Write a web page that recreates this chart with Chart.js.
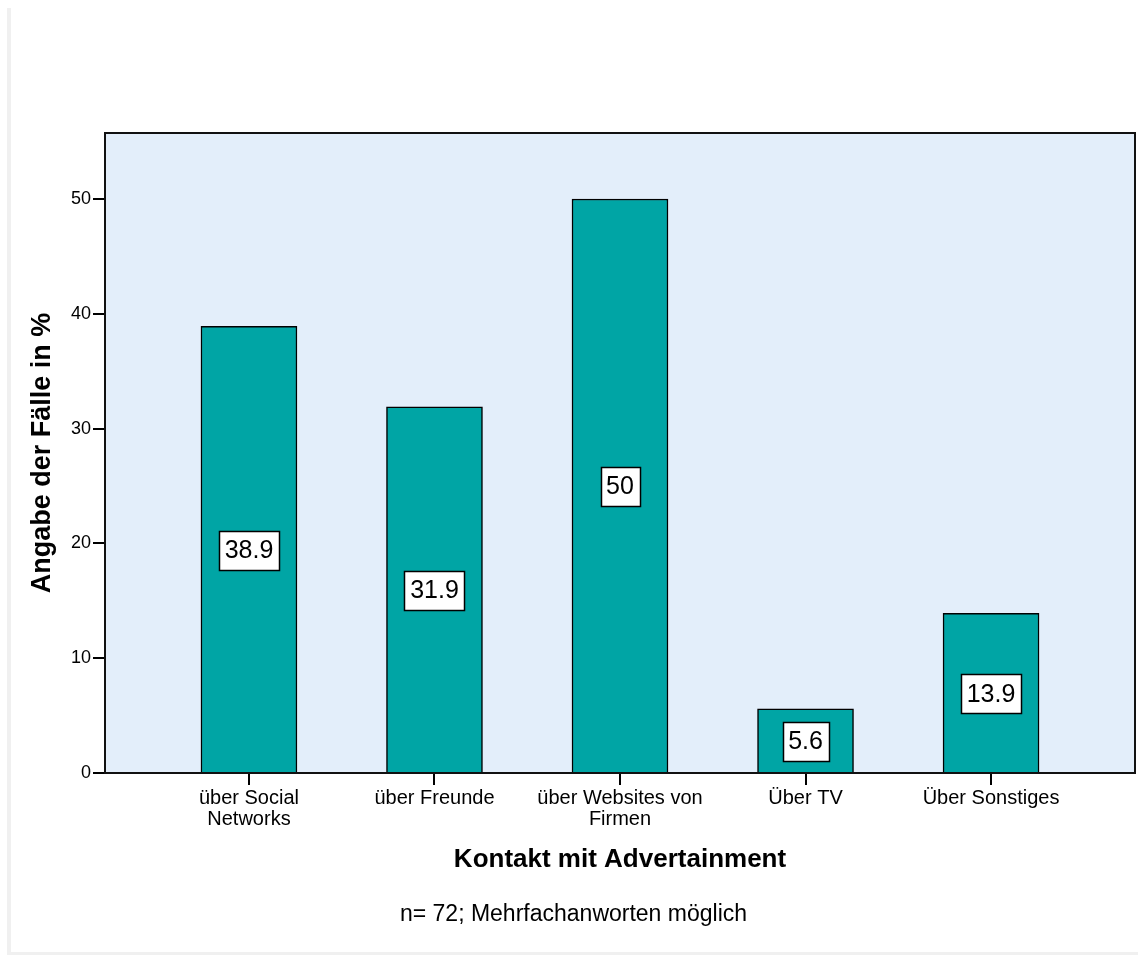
<!DOCTYPE html>
<html>
<head>
<meta charset="utf-8">
<title>Kontakt mit Advertainment</title>
<script src="https://cdn.jsdelivr.net/npm/chart.js@4/dist/chart.umd.min.js"></script>
<style>
  html, body { margin: 0; padding: 0; background: #ffffff; }
  canvas { display: block; }
</style>
</head>
<body>
<canvas id="chart" width="1138" height="955"></canvas>
<script>
// Categories (line breaks mark where the axis label wraps)
const categories = [
  'über Social\nNetworks',
  'über Freunde',
  'über Websites von\nFirmen',
  'Über TV',
  'Über Sonstiges'
];
// Share of cases in percent
const values = [38.9, 31.9, 50, 5.6, 13.9];
// Value axis ticks
const yTicks = [0, 10, 20, 30, 40, 50];

const FONT = 'Arial, "Liberation Sans", sans-serif';

// Light grey frame along the left and bottom edge of the page
const pageFrame = {
  id: 'pageFrame',
  beforeDraw(chart) {
    const ctx = chart.ctx;
    ctx.save();
    ctx.fillStyle = '#f0f0f0';
    ctx.fillRect(7, 8, 4, chart.height - 8);
    ctx.fillRect(7, chart.height - 3, chart.width - 7, 3);
    ctx.restore();
  }
};

// Light blue plot background and black plot frame
const plotBox = {
  id: 'plotBox',
  beforeDatasetsDraw(chart) {
    const { ctx, chartArea: a } = chart;
    ctx.save();
    ctx.fillStyle = '#e3eefa';
    ctx.fillRect(a.left, a.top, a.right - a.left, a.bottom - a.top);
    ctx.restore();
  },
  afterDatasetsDraw(chart) {
    const { ctx, chartArea: a } = chart;
    ctx.save();
    ctx.strokeStyle = '#111111';
    ctx.lineWidth = 2;
    ctx.strokeRect(a.left, a.top, a.right - a.left, a.bottom - a.top);
    ctx.restore();
  }
};

// Boxed value labels in the middle of each bar
const valueBoxes = {
  id: 'valueBoxes',
  afterDraw(chart) {
    const ctx = chart.ctx;
    const meta = chart.getDatasetMeta(0);
    ctx.save();
    ctx.font = '25px ' + FONT;
    ctx.textAlign = 'center';
    ctx.textBaseline = 'middle';
    meta.data.forEach((bar, i) => {
      const text = String(values[i]);
      const tw = ctx.measureText(text).width;
      const w = Math.round(tw + 11);
      const h = 39;
      const cx = bar.x;
      const cy = (bar.y + bar.base) / 2 + 1;
      const x0 = Math.round(cx - w / 2) + 0.5;
      const y0 = Math.round(cy - h / 2) + 0.5;
      ctx.fillStyle = '#ffffff';
      ctx.fillRect(x0, y0, w, h);
      ctx.strokeStyle = '#000000';
      ctx.lineWidth = 1.5;
      ctx.strokeRect(x0, y0, w, h);
      ctx.fillStyle = '#000000';
      ctx.fillText(text, cx, cy + 1);
    });
    ctx.restore();
  }
};

new Chart(document.getElementById('chart'), {
  type: 'bar',
  data: {
    datasets: [{
      data: values.map((v, i) => ({ x: i, y: v })),
      backgroundColor: '#00a5a5',
      borderColor: '#000000',
      borderWidth: 1.5,
      borderSkipped: 'bottom',
      barThickness: 96
    }]
  },
  options: {
    responsive: false,
    animation: false,
    layout: { padding: { top: 133, right: 3, left: 12, bottom: 0 } },
    plugins: {
      legend: { display: false },
      tooltip: { enabled: false },
      title: {
        display: true,
        position: 'bottom',
        text: 'n= 72; Mehrfachanworten möglich',
        color: '#000000',
        font: { family: FONT, size: 23, weight: 'normal', lineHeight: 1.2 },
        padding: { top: 2, bottom: 26.4 }
      }
    },
    scales: {
      x: {
        type: 'linear',
        offset: false,
        min: -0.776,
        max: 4.776,
        afterBuildTicks(scale) {
          scale.ticks = categories.map((_, i) => ({ value: i }));
        },
        afterFit(scale) { scale.height = 126; },
        ticks: {
          autoSkip: false,
          maxRotation: 0,
          minRotation: 0,
          padding: 3,
          color: '#000000',
          font: { family: FONT, size: 20, lineHeight: 1.05 },
          callback: (v) => categories[v] !== undefined ? categories[v].split('\n') : ''
        },
        grid: {
          offset: false,
          drawOnChartArea: false,
          drawTicks: true,
          tickLength: 12,
          color: '#000000',
          lineWidth: 2
        },
        border: { display: true, color: '#000000', width: 2 },
        title: {
          display: true,
          text: 'Kontakt mit Advertainment',
          color: '#000000',
          font: { family: FONT, size: 26, weight: 'bold', lineHeight: 1.2 },
          padding: { top: 0, bottom: 23.4 }
        }
      },
      y: {
        type: 'linear',
        min: 0,
        max: 55.75,
        afterBuildTicks(scale) {
          scale.ticks = yTicks.map(v => ({ value: v }));
        },
        afterFit(scale) { scale.width = 93; },
        ticks: {
          padding: 2,
          color: '#000000',
          font: { family: FONT, size: 18 }
        },
        grid: {
          drawOnChartArea: false,
          drawTicks: true,
          tickLength: 12,
          color: '#000000',
          lineWidth: 2
        },
        border: { display: true, color: '#000000', width: 2 },
        title: {
          display: true,
          text: 'Angabe der Fälle in %',
          color: '#000000',
          font: { family: FONT, size: 27, weight: 'bold', lineHeight: 1.2 },
          padding: { top: 14, bottom: 0 }
        }
      }
    }
  },
  plugins: [pageFrame, plotBox, valueBoxes]
});
</script>
</body>
</html>
